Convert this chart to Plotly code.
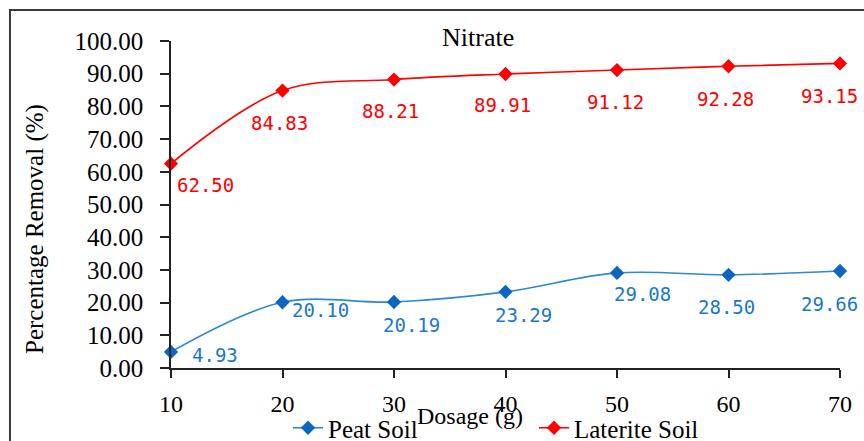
import plotly.graph_objects as go

dosage = [10, 20, 30, 40, 50, 60, 70]
peat_soil = [4.93, 20.10, 20.19, 23.29, 29.08, 28.50, 29.66]
laterite_soil = [62.50, 84.83, 88.21, 89.91, 91.12, 92.28, 93.15]
y_ticks = [0, 10, 20, 30, 40, 50, 60, 70, 80, 90, 100]
x_ticks = [10, 20, 30, 40, 50, 60, 70]

# label offsets in pixels (dx, dy) - style only
peat_off = [(44, -3), (38, -8), (17, -23), (18, -23), (25, -21), (-2, -32), (-11, -33)]
lat_off = [(34, -21), (-3, -32), (-4, -31), (-3, -31), (-2, -32), (-3, -33), (-11, -33)]

RED = "#FF0000"
BLUE_LINE = "#2E88D4"
BLUE_MK = "#0A66C2"
BLUE_TXT = "#1A78CC"
SERIF = "Liberation Serif, Times New Roman, serif"
MONO = "DejaVu Sans Mono, monospace"

fig = go.Figure()
fig.add_trace(go.Scatter(
    x=dosage, y=peat_soil, name="Peat Soil", mode="lines+markers",
    line=dict(color=BLUE_LINE, width=1.6, shape="spline", smoothing=1.0),
    marker=dict(symbol="diamond", size=11, color=BLUE_MK),
    cliponaxis=False,
))
fig.add_trace(go.Scatter(
    x=dosage, y=laterite_soil, name="Laterite Soil", mode="lines+markers",
    line=dict(color=RED, width=1.6, shape="spline", smoothing=1.0),
    marker=dict(symbol="diamond", size=11, color=RED),
    cliponaxis=False,
))

annotations = []
for xv, yv, (dx, dy) in zip(dosage, peat_soil, peat_off):
    annotations.append(dict(x=xv, y=yv, xref="x", yref="y", text=f"{yv:.2f}",
                            showarrow=False, xshift=dx, yshift=dy,
                            font=dict(family=MONO, size=19, color=BLUE_TXT)))
for xv, yv, (dx, dy) in zip(dosage, laterite_soil, lat_off):
    annotations.append(dict(x=xv, y=yv, xref="x", yref="y", text=f"{yv:.2f}",
                            showarrow=False, xshift=dx, yshift=dy,
                            font=dict(family=MONO, size=19, color=RED)))

# chart title inside plot area
annotations.append(dict(x=0.459, y=1.012, xref="paper", yref="paper", text="Nitrate",
                        showarrow=False, yanchor="middle",
                        font=dict(family=SERIF, size=26, color="#000000")))
# axis titles
annotations.append(dict(x=-0.2033, y=0.425, xref="paper", yref="paper",
                        text="Percentage Removal (%)", textangle=-90, showarrow=False,
                        xanchor="center", yanchor="middle",
                        font=dict(family=SERIF, size=25, color="#000000")))
annotations.append(dict(x=0.447, y=-0.147, xref="paper", yref="paper",
                        text="Dosage (g)", showarrow=False,
                        xanchor="center", yanchor="middle",
                        font=dict(family=SERIF, size=24, color="#000000")))

fig.update_layout(
    width=864, height=441,
    margin=dict(l=171, r=24, t=41, b=73),
    paper_bgcolor="white", plot_bgcolor="white",
    showlegend=True,
    legend=dict(orientation="h", xref="container", yref="container",
                x=288 / 864, y=13 / 441, xanchor="left", yanchor="middle",
                font=dict(family=SERIF, size=25, color="#000000"),
                entrywidth=201, entrywidthmode="pixels",
                bgcolor="rgba(0,0,0,0)", tracegroupgap=0),
    xaxis=dict(range=[10, 70], tickvals=x_ticks, ticktext=[str(v) for v in x_ticks],
               showgrid=False, zeroline=False, showline=True, linecolor="#222222", linewidth=1.5,
               ticks="outside", ticklen=8, tickwidth=1.5, tickcolor="#222222",
               ticklabelstandoff=5, automargin=False,
               tickfont=dict(family=SERIF, size=24, color="#000000")),
    yaxis=dict(range=[0, 100], tickvals=y_ticks, ticktext=[f"{v:.2f}" for v in y_ticks],
               showgrid=False, zeroline=False, showline=True, linecolor="#222222", linewidth=1.5,
               ticks="outside", ticklen=9, tickwidth=1.5, tickcolor="#222222",
               ticklabelstandoff=12, automargin=False,
               tickfont=dict(family=SERIF, size=25, color="#000000")),
    annotations=annotations,
    shapes=[dict(type="rect", xref="paper", yref="paper",
                 x0=-0.2407, y0=-0.4, x1=1.2, y1=1.0948,
                 line=dict(color="#3a3a3a", width=2), fillcolor="rgba(0,0,0,0)", layer="below")],
)

fig.write_html("out.html")
